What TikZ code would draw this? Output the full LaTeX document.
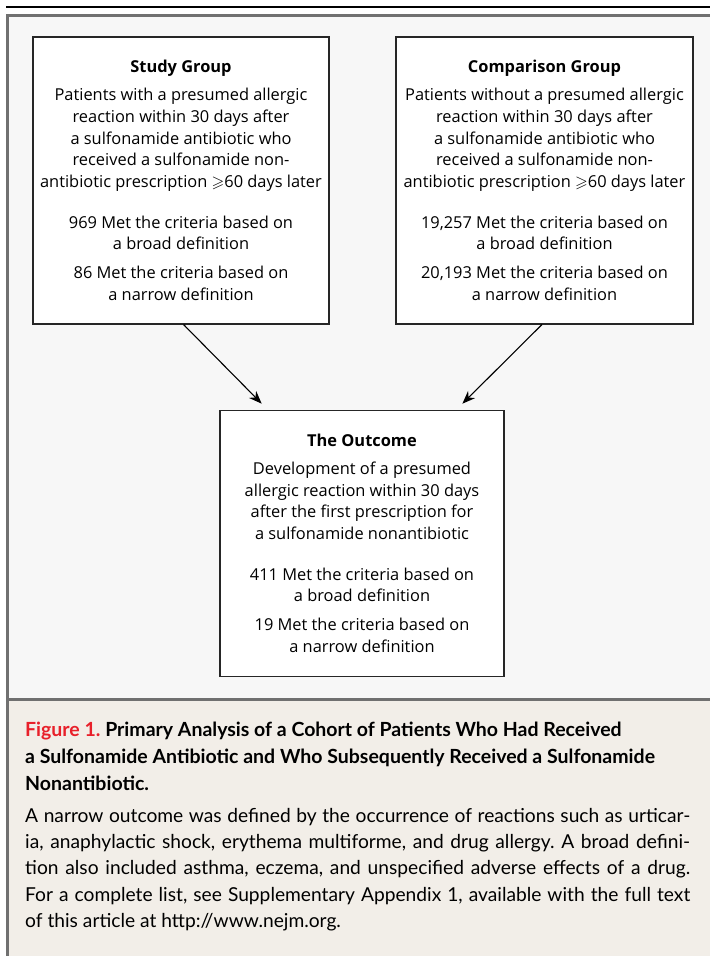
\documentclass[tikz,border=0pt]{standalone}
\usepackage{fontspec}
\usepackage{amssymb}
\setmainfont{Lato}
\newfontfamily\boxfont{Open Sans}
\usetikzlibrary{arrows.meta}
\definecolor{panelgray}{HTML}{F7F7F7}
\definecolor{capbeige}{HTML}{F2EEE8}
\definecolor{framegray}{HTML}{707070}
\definecolor{figred}{HTML}{E8202A}
\newcommand{\capline}[1]{\makebox[665pt][s]{#1}}
\frenchspacing
\begin{document}
\begin{tikzpicture}[x=1pt,y=-1pt,
   box/.style={draw=black!85,line width=1.2pt,fill=white,inner sep=0pt,align=center,
      font=\boxfont\fontsize{16.4}{21.7}\selectfont},
   arr/.style={-{Stealth[length=13pt,width=10pt]},line width=1.1pt,shorten >=9pt},
   captext/.style={anchor=north west,inner sep=0pt,align=left}]
  \useasboundingbox (0,0) rectangle (710,956);
  \fill[panelgray] (7.5,15) rectangle (710,699.5);
  \fill[capbeige] (7.5,699.5) rectangle (710,956);
  \draw[line width=1.5pt] (6,7) -- (710,7);
  \draw[framegray,line width=3pt] (7.5,956) -- (7.5,15) -- (710,15);
  \draw[framegray,line width=2.5pt] (7.5,699.5) -- (710,699.5);

  \node[box,minimum width=296,minimum height=287] (study) at (181,180.4)
    {{\bfseries Study Group}\\[6pt]
     Patients with a presumed allergic\\ reaction within 30 days after\\
     a sulfonamide antibiotic who\\ received a sulfonamide non-\\
     antibiotic prescription $\geqslant$60 days later\\[19pt]
     969 Met the criteria based on\\ a broad definition\\[7pt]
     86 Met the criteria based on\\ a narrow definition};
  \node[box,minimum width=297,minimum height=287] (comp) at (544.5,180.4)
    {{\bfseries Comparison Group}\\[6pt]
     Patients without a presumed allergic\\ reaction within 30 days after\\
     a sulfonamide antibiotic who\\ received a sulfonamide non-\\
     antibiotic prescription $\geqslant$60 days later\\[19pt]
     19,257 Met the criteria based on\\ a broad definition\\[7pt]
     20,193 Met the criteria based on\\ a narrow definition};
  \node[box,minimum width=284,minimum height=265.5] (outcome) at (362,543.4)
    {{\bfseries The Outcome}\\[6pt]
     Development of a presumed\\ allergic reaction within 30 days\\
     after the first prescription for\\ a sulfonamide nonantibiotic\\[19pt]
     411 Met the criteria based on\\ a broad definition\\[7pt]
     19 Met the criteria based on\\ a narrow definition};

  \draw[arr] ([xshift=2.5pt]study.south) -- ([xshift=-94pt]outcome.north);
  \draw[arr] ([xshift=-2.5pt]comp.south) -- ([xshift=94pt]outcome.north);

  \node[captext,font=\fontsize{19.5}{27}\selectfont\bfseries] (captitle) at (25,722)
    {\textcolor{figred}{Figure 1.} Primary Analysis of a Cohort of Patients Who Had Received\\
     a Sulfonamide Antibiotic and Who Subsequently Received a Sulfonamide\\
     Nonantibiotic.};
  \node[captext,font=\fontsize{19.2}{26.3}\selectfont] (capbody) at (25,808)
    {\capline{A narrow outcome was defined by the occurrence of reactions such as urticar-}\\
     \capline{ia, anaphylactic shock, erythema multiforme, and drug allergy. A broad defini-}\\
     \capline{tion also included asthma, eczema, and unspecified adverse effects of a drug.}\\
     \capline{For a complete list, see Supplementary Appendix 1, available with the full text}\\
     of this article at http://www.nejm.org.};
\end{tikzpicture}
\end{document}
